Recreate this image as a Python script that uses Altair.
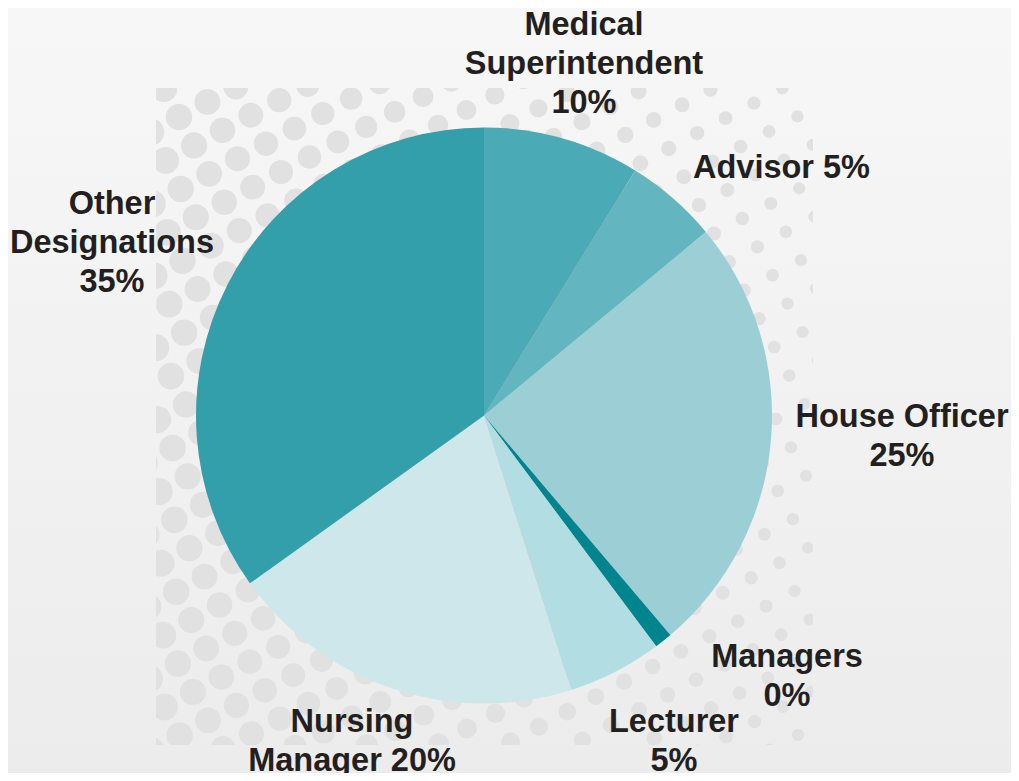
import math
import pandas as pd
import altair as alt

# ---- data ----
categories = ["Medical Superintendent", "Advisor", "House Officer", "Managers",
              "Lecturer", "Nursing Manager", "Other Designations"]
shares = [8.8, 5.2, 24.8, 1.0, 5.3, 20.0, 34.9]
pct_labels = ["10%", "5%", "25%", "0%", "5%", "20%", "35%"]
colors = ["#4aabb6", "#63b5bf", "#9bcfd5", "#00858f", "#b2dde2", "#cde7ea", "#339faa"]

# ---- layout ----
W = H = 657
PAD = {"left": 148, "top": 80, "right": 198, "bottom": 28}
CX, CY, R = 328, 327.5, 288
FONT = "Liberation Sans"

# label text layout (line breaks) and anchor of first baseline (view px)
label_lines = {
    "Medical Superintendent": "Medical\nSuperintendent\n{p}",
    "Advisor": "Advisor {p}",
    "House Officer": "House Officer\n{p}",
    "Managers": "Managers\n{p}",
    "Lecturer": "Lecturer\n{p}",
    "Nursing Manager": "Nursing\nManager {p}",
    "Other Designations": "Other\nDesignations\n{p}",
}
label_anchor = {
    "Medical Superintendent": (428, -53),
    "Advisor": (625.5, 90),
    "House Officer": (746, 339),
    "Managers": (631, 579),
    "Lecturer": (518, 644),
    "Nursing Manager": (196, 644),
    "Other Designations": (-44, 126),
}

pie_df = pd.DataFrame({"category": categories, "share": shares, "order": list(range(len(categories)))})

lab_df = pd.DataFrame({
    "category": categories,
    "label": [label_lines[c].format(p=p) for c, p in zip(categories, pct_labels)],
    "lx": [label_anchor[c][0] for c in categories],
    "ly": [label_anchor[c][1] for c in categories],
})

# decorative halftone texture (rotated square lattice, dots shrink to the right)
ox, oy = 23, 29
c, s = 28.4, 15.07
dots = []
for a in range(-40, 41):
    for b in range(-40, 41):
        x = ox + a * c + b * s
        y = oy - a * s + b * c
        if -20 < x < W + 20 and -20 < y < H + 20:
            d = 30.5 - 0.026 * x
            dots.append({"px": x, "py": y, "sz": math.pi * d * d / 4})
dots_df = pd.DataFrame(dots)

# soft glow / shadow rings around the pie
glow_df = pd.DataFrame({"sz": [math.pi * (R + k) ** 2 for k in range(4, 30, 4)]})
shadow_df = pd.DataFrame({"sz": [math.pi * (R + k) ** 2 for k in range(1, 21, 2)]})
one = pd.DataFrame({"k": [0]})

bg = alt.Chart(one).mark_rect(
    color=alt.LinearGradient(
        gradient="linear", x1=0, y1=0, x2=0, y2=1,
        stops=[alt.GradientStop(offset=0, color="#f7f7f7"),
               alt.GradientStop(offset=1, color="#ececec")])
).encode(
    x=alt.value(-PAD["left"]), x2=alt.value(W + PAD["right"]),
    y=alt.value(-PAD["top"]), y2=alt.value(H + PAD["bottom"]),
)

dot_layer = alt.Chart(dots_df).mark_circle(clip=True, color="#e1e1e1", opacity=1).encode(
    x=alt.X("px:Q", scale=None, axis=None),
    y=alt.Y("py:Q", scale=None, axis=None),
    size=alt.Size("sz:Q", scale=None, legend=None),
)

glow = alt.Chart(glow_df).mark_circle(color="#ffffff", opacity=0.17).encode(
    x=alt.value(CX - 3), y=alt.value(CY - 3),
    size=alt.Size("sz:Q", scale=None, legend=None),
)

shadow = alt.Chart(shadow_df).mark_circle(color="#000000", opacity=0.022).encode(
    x=alt.value(CX + 6), y=alt.value(CY + 7),
    size=alt.Size("sz:Q", scale=None, legend=None),
)

pie = alt.Chart(pie_df).mark_arc(radius=R).encode(
    theta=alt.Theta("share:Q", stack=True),
    color=alt.Color("category:N", scale=alt.Scale(domain=categories, range=colors), legend=None),
    order=alt.Order("order:Q"),
    x=alt.value(CX), y=alt.value(CY),
)

labels = alt.Chart(lab_df).mark_text(
    font=FONT, fontSize=32.5, fontWeight="bold", color="#231f20",
    align="center", baseline="alphabetic", lineBreak="\n", lineHeight=39,
).encode(
    x=alt.X("lx:Q", scale=None, axis=None),
    y=alt.Y("ly:Q", scale=None, axis=None),
    text="label:N",
)

chart = alt.layer(bg, dot_layer, glow, shadow, pie, labels).properties(
    width=W, height=H,
    autosize=alt.AutoSizeParams(type="none"),
    padding=PAD,
    background="#f2f2f2",
).configure_view(stroke=None)

chart.save("out.html", embed_options={"renderer": "svg", "actions": False})
